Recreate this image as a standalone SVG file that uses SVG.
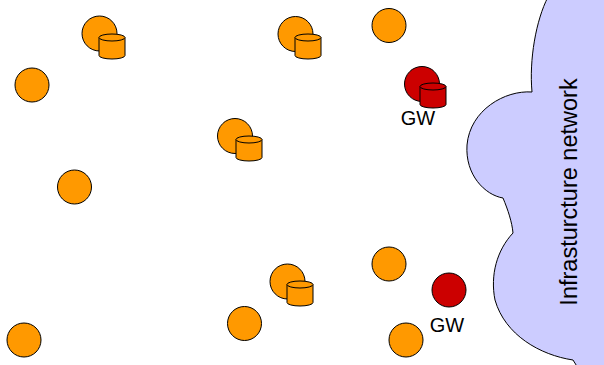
<svg xmlns="http://www.w3.org/2000/svg" width="604" height="365" viewBox="0 0 604 365">
<defs>
<style>
.n{fill:#FF9900;stroke:#000;stroke-width:1}
.g{fill:#CC0000;stroke:#000;stroke-width:1}
.lbl{font-family:"Liberation Sans",Arial,sans-serif;fill:#000}
</style>
<g id="cylO">
<path class="n" d="M0,0 V18 A13,3.5 0 0 0 26,18 V0"/>
<ellipse class="n" cx="13" cy="0" rx="13" ry="3.5"/>
</g>
<g id="cylR">
<path class="g" d="M0,0 V18 A13,3.5 0 0 0 26,18 V0"/>
<ellipse class="g" cx="13" cy="0" rx="13" ry="3.5"/>
</g>
</defs>
<rect width="604" height="365" fill="#fff"/>
<g id="cloud">
<path d="M548,-3 C536,20 529,60 532,92 C505,90 470,110 467,145 C465,175 485,195 503,198 C508,210 512,222 513,233 C497,250 490,275 495,300 C505,335 540,355 573,360 L578,368 L610,368 L610,-3 Z" fill="#CCCCFF" stroke="#000" stroke-width="1"/>
<text class="lbl" transform="translate(577,192) rotate(-90)" text-anchor="middle" font-size="23.5">Infrasturcture network</text>
</g>
<g id="connectors"></g>
<g id="n1"><circle class="n" cx="99.5" cy="33.5" r="17.5"/><use href="#cylO" x="99" y="37.5"/></g>
<g id="n2"><circle class="n" cx="32" cy="85" r="17"/></g>
<g id="n3"><circle class="n" cx="295.5" cy="34" r="17.5"/><use href="#cylO" x="295" y="37.5"/></g>
<g id="n4"><circle class="n" cx="389" cy="25.5" r="17"/></g>
<g id="n5"><circle class="g" cx="422" cy="84" r="17.5"/><use href="#cylR" x="420" y="86.5"/><text class="lbl" x="418" y="125" text-anchor="middle" font-size="20">GW</text></g>
<g id="n6"><circle class="n" cx="235" cy="136" r="17.5"/><use href="#cylO" x="236" y="139.5"/></g>
<g id="n7"><circle class="n" cx="74.5" cy="187" r="17"/></g>
<g id="n8"><circle class="n" cx="389" cy="264" r="17"/></g>
<g id="n9"><circle class="n" cx="287.5" cy="281.5" r="17.5"/><use href="#cylO" x="287" y="284.5"/></g>
<g id="n10"><circle class="g" cx="449" cy="290" r="17"/><text class="lbl" x="447" y="332" text-anchor="middle" font-size="20">GW</text></g>
<g id="n11"><circle class="n" cx="24" cy="340" r="17"/></g>
<g id="n12"><circle class="n" cx="244.5" cy="323.5" r="17"/></g>
<g id="n13"><circle class="n" cx="406" cy="340" r="17"/></g>
</svg>
